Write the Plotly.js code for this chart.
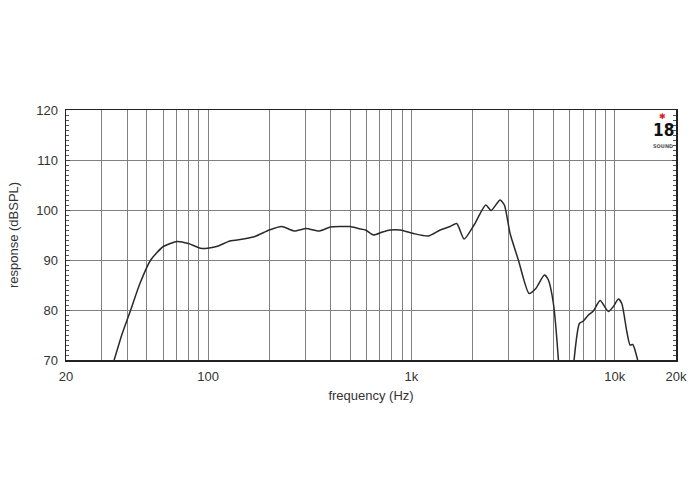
<!DOCTYPE html>
<html>
<head>
<meta charset="utf-8">
<script src="https://cdn.plot.ly/plotly-3.0.1.min.js"></script>
<style>html,body{margin:0;padding:0;background:#fff;}#chart{width:700px;height:500px;}</style>
</head>
<body>
<div id="chart"></div>
<script>
// Frequency response (Hz -> dB SPL)
const freqHz = [32.5, 34.5, 37.6, 41.6, 46.2, 52.2, 60.2, 70.5, 80, 93, 110, 128, 149, 170, 200, 230, 265, 303, 352, 400, 450, 500, 548, 595, 650, 720, 785, 879, 1022, 1210, 1384, 1548, 1670, 1815, 2031, 2320, 2464, 2728, 2864, 3055, 3356, 3788, 4088, 4506, 4714, 4990, 5281, 5450, 6100, 6306, 6697, 7008, 7415, 7848, 8466, 9300, 9840, 10416, 10826, 11456, 11892, 12262, 12914, 13100];
const responseDb = [67, 70, 75, 80, 85.3, 90, 92.7, 93.7, 93.3, 92.3, 92.7, 93.8, 94.2, 94.7, 96, 96.7, 95.8, 96.3, 95.8, 96.6, 96.7, 96.7, 96.3, 96.0, 95.0, 95.6, 96.0, 96.0, 95.3, 94.8, 96.0, 96.7, 97.3, 94.2, 97.0, 101, 99.9, 102, 101, 95.3, 90, 83.3, 84.3, 87, 86, 81.3, 70, 60, 60, 70, 77.3, 77.8, 79, 79.8, 81.9, 79.7, 80.7, 82.2, 81.3, 75.7, 73, 73.1, 70.2, 69];

const xTickVals = [20, 100, 1000, 10000, 20000];
const xTickText = ['20', '100', '1k', '10k', '20k'];
const xGridVals = [30, 40, 50, 60, 70, 80, 90, 200, 300, 400, 500, 600, 700, 800, 900, 2000, 3000, 4000, 5000, 6000, 7000, 8000, 9000];
const yRange = [70, 120];

const gridColor = '#808080';
const font = {family: 'Liberation Sans, Arial, sans-serif', size: 13, color: '#333'};

const trace = {
  x: freqHz, y: responseDb, type: 'scatter', mode: 'lines',
  line: {color: '#2a2a2a', width: 1.5, shape: 'spline', smoothing: 0.6},
  hoverinfo: 'skip'
};

const layout = {
  width: 700, height: 500,
  margin: {l: 66, r: 24, t: 110, b: 140},
  paper_bgcolor: '#fff', plot_bgcolor: '#fff',
  showlegend: false,
  font: font,
  xaxis: {
    type: 'log', range: [Math.log10(20), Math.log10(20000)],
    tickmode: 'array', tickvals: xTickVals, ticktext: xTickText,
    ticks: '', showgrid: true, gridcolor: gridColor, gridwidth: 1,
    minor: {tickmode: 'array', tickvals: xGridVals, showgrid: true, gridcolor: gridColor, gridwidth: 1, ticks: ''},
    showline: true, mirror: true, linecolor: '#222', linewidth: 1.5,
    zeroline: false, tickfont: font, ticklabelstandoff: 4,
    title: {text: 'frequency (Hz)', font: font, standoff: 8}
  },
  yaxis: {
    range: yRange, dtick: 10, tick0: 70,
    ticks: 'inside', ticklen: 4, tickcolor: '#444', tickwidth: 1,
    showgrid: true, gridcolor: gridColor, gridwidth: 1,
    minor: {dtick: 1, ticks: 'inside', ticklen: 3, tickcolor: '#555', tickwidth: 1, showgrid: false},
    showline: true, mirror: 'allticks', linecolor: '#222', linewidth: 1.5,
    zeroline: false, tickfont: font, ticklabelstandoff: 4,
    title: {text: 'response (dBSPL)', font: font, standoff: 14}
  },
  annotations: [
    {xref: 'paper', yref: 'paper', x: (662 - 66) / 610, y: (360 - 116) / 250, xanchor: 'center', yanchor: 'middle',
     text: '✱', showarrow: false, font: {family: 'DejaVu Sans', size: 8, color: '#d82020'}},
    {xref: 'paper', yref: 'paper', x: (663 - 66) / 610, y: (360 - 130) / 250, xanchor: 'center', yanchor: 'middle',
     text: '<b>18</b>', showarrow: false, font: {family: 'DejaVu Sans Condensed, DejaVu Sans', size: 17, color: '#111'}},
    {xref: 'paper', yref: 'paper', x: (663 - 66) / 610, y: (360 - 146) / 250, xanchor: 'center', yanchor: 'middle',
     text: '<b>SOUND</b>', showarrow: false, font: {family: 'DejaVu Sans', size: 5, color: '#555'}}
  ]
};

Plotly.newPlot('chart', [trace], layout, {staticPlot: true, displayModeBar: false});
</script>
</body>
</html>
